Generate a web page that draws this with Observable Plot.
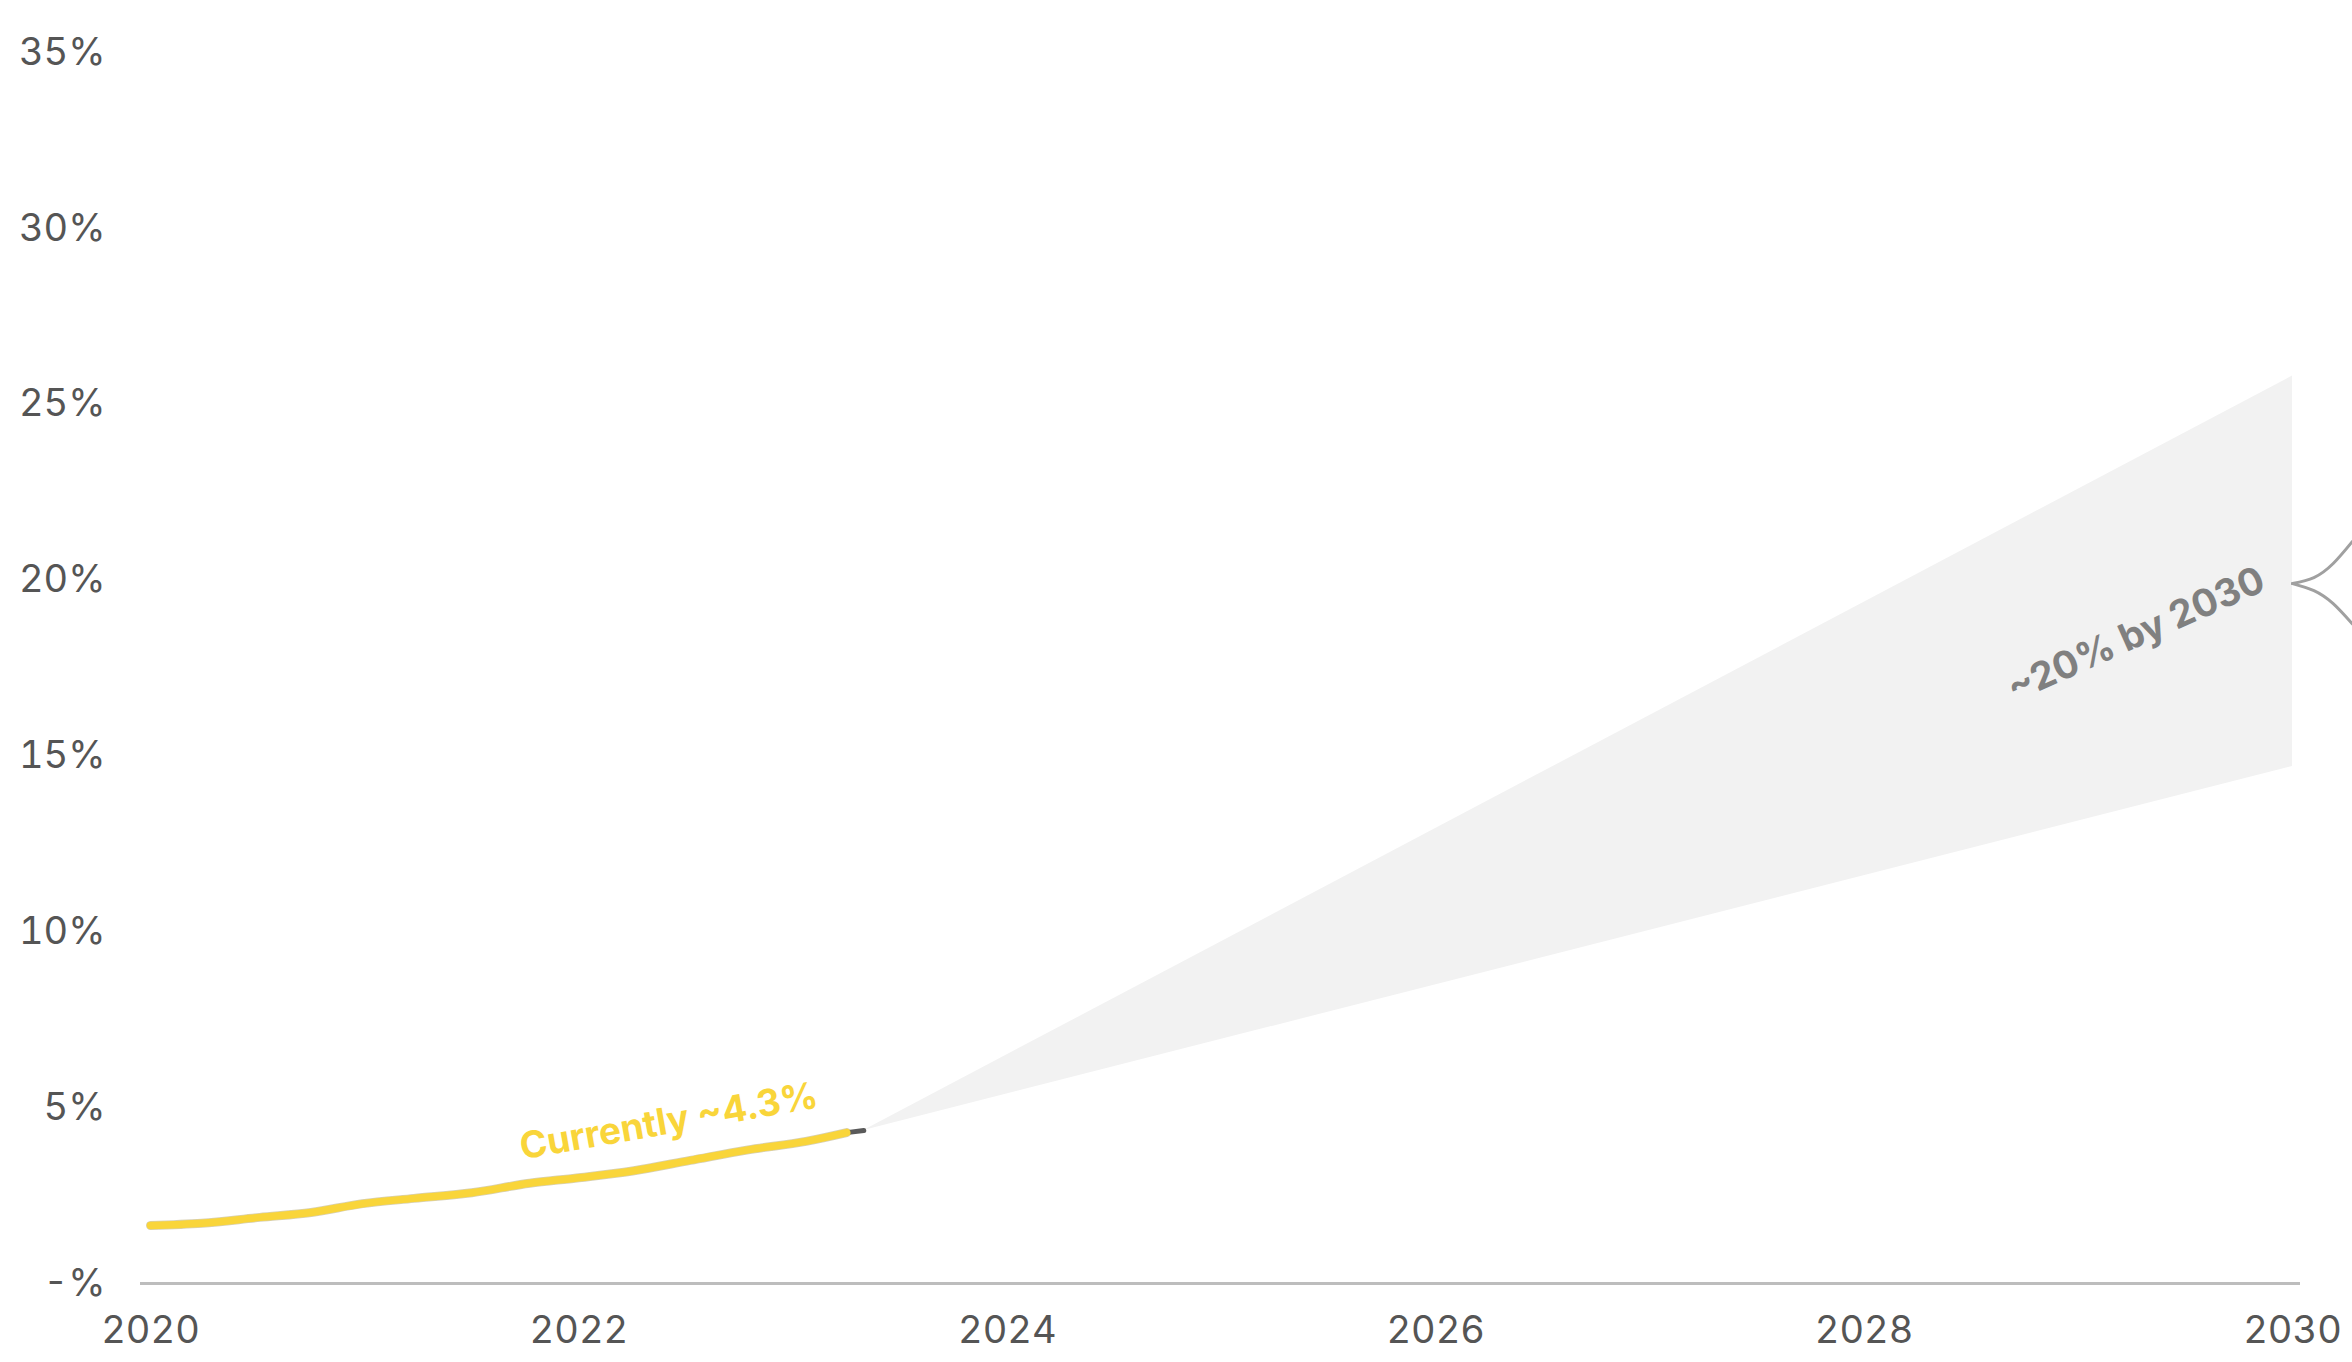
<!DOCTYPE html>
<html>
<head>
<meta charset="utf-8">
<script src="https://cdn.jsdelivr.net/npm/d3@7"></script>
<script src="https://cdn.jsdelivr.net/npm/@observablehq/plot@0.6"></script>
<style>
  html, body { margin: 0; padding: 0; background: #fff; }
  #chart svg { display: block; }
</style>
</head>
<body>
<div id="chart"></div>
<script>
// Historical share (%)
const years = [2020.0, 2020.24, 2020.51, 2020.75, 2020.99, 2021.23, 2021.5, 2021.77, 2021.99, 2022.25, 2022.52, 2022.79, 2023.06, 2023.25];
const shares = [1.65, 1.71, 1.88, 2.02, 2.27, 2.42, 2.58, 2.85, 3.0, 3.2, 3.5, 3.8, 4.04, 4.29];

// Projection cone
const coneYears = [2023.33, 2030];
const coneLow = [4.35, 14.7];
const coneHigh = [4.35, 25.8];

// Bracket at 2030 (~20%)
const bracketUpperYears = [2030.0, 2030.1, 2030.19, 2030.28];
const bracketUpperValues = [19.9, 20.07, 20.47, 21.1];
const bracketLowerYears = [2030.0, 2030.1, 2030.19, 2030.28];
const bracketLowerValues = [19.9, 19.7, 19.33, 18.75];

// Axes
const xTicks = [2020, 2022, 2024, 2026, 2028, 2030];
const yTicks = [0, 5, 10, 15, 20, 25, 30, 35];

// Annotations
const labelCurrent = {year: 2022.42, value: 4.6, text: "Currently ~4.3%"};
const labelTarget = {year: 2029.27, value: 18.45, text: "~20% by 2030"};

const history = years.map((y, i) => ({year: y, share: shares[i]}));
const cone = coneYears.map((y, i) => ({year: y, lo: coneLow[i], hi: coneHigh[i]}));
const bracket = [
  ...bracketUpperYears.map((y, i) => ({year: y, v: bracketUpperValues[i], part: "upper"})),
  ...bracketLowerYears.map((y, i) => ({year: y, v: bracketLowerValues[i], part: "lower"}))
];

const font = "Inter, 'DejaVu Sans', sans-serif";
const fmtY = d => d === 0 ? "-%" : d + "%";

const chart = Plot.plot({
  width: 2352,
  height: 1362,
  marginLeft: 150,
  marginRight: 60,
  marginTop: 52,
  marginBottom: 79,
  style: {fontFamily: font, fontSize: "38px", color: "#555", background: "#fff", overflow: "visible"},
  x: {domain: [2020, 2030], label: null},
  y: {domain: [0, 35], label: null},
  marks: [
    Plot.areaY(cone, {x: "year", y1: "lo", y2: "hi", fill: "#f2f2f2"}),
    Plot.ruleY([0], {stroke: "#bdbdbd", strokeWidth: 3, insetLeft: -10, insetRight: -8}),
    Plot.line([history[history.length - 1], {year: coneYears[0], share: coneLow[0]}], {x: "year", y: "share", stroke: "#5a5a5a", strokeWidth: 5}),
    Plot.line(history, {x: "year", y: "share", stroke: "#9a8a40", strokeWidth: 9, curve: "monotone-x", strokeOpacity: 0.4}),
    Plot.line(history, {x: "year", y: "share", stroke: "#f9d53a", strokeWidth: 7.5, curve: "monotone-x"}),
    Plot.line(bracket, {x: "year", y: "v", z: "part", stroke: "#a0a0a0", strokeWidth: 3, curve: "natural"}),
    Plot.text([labelCurrent], {x: "year", y: "value", text: "text", rotate: -10, fill: "#f9d53a", fontSize: 37, fontWeight: 700, fontFamily: font}),
    Plot.text([labelTarget], {x: "year", y: "value", text: "text", rotate: -24, fill: "#808080", fontSize: 38, fontWeight: 700, fontFamily: font}),
    Plot.axisX({ticks: xTicks, tickSize: 0, tickPadding: 33, tickFormat: d => String(d), fill: "#555", fontSize: 38}),
    Plot.axisY({ticks: yTicks, tickSize: 0, tickPadding: 45, tickFormat: fmtY, fill: "#555", fontSize: 38})
  ]
});
document.getElementById("chart").appendChild(chart);
</script>
</body>
</html>
